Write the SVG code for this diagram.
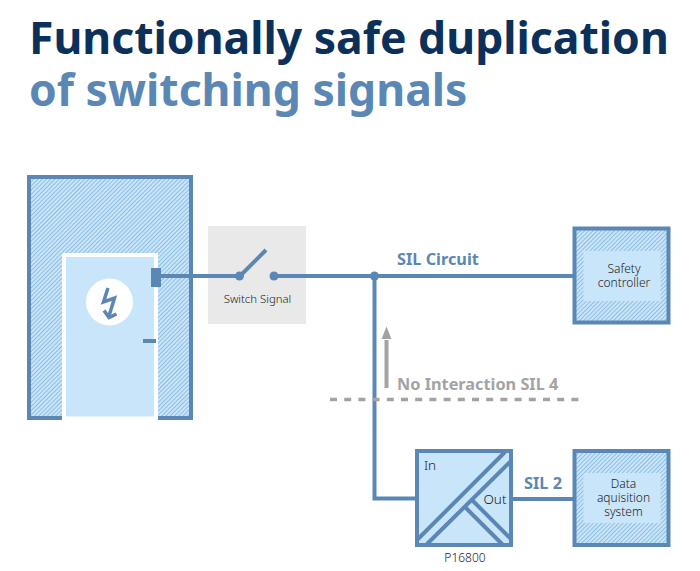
<svg xmlns="http://www.w3.org/2000/svg" width="700" height="571" viewBox="0 0 700 571">
<style>
text{font-family:"Noto Sans","Open Sans","DejaVu Sans",sans-serif}
.t{font-size:44.5px;font-weight:700}
.s{font-size:12px;font-weight:300;fill:#222;text-anchor:middle}
.m{font-size:13.500px}
.l{font-size:16.300px;font-weight:700;fill:#5b87b5}
.b{stroke:#5b87b5;stroke-width:4;fill:url(#h)}
.w{stroke:#5b87b5;stroke-width:4;fill:none}
.f{fill:#c9e5fa}
.d{fill:#5b87b5}
</style>
<defs>
<pattern id="h" width="3" height="3" patternUnits="userSpaceOnUse" patternTransform="rotate(45)">
<rect width="3" height="3" fill="#c9e5fa"/><rect width="1" height="3" fill="#8fbde2"/>
</pattern>
</defs>
<rect width="700" height="571" fill="#fff"/>
<text class="t" x="29" y="54" fill="#0b3059">Functionally safe duplication</text>
<text class="t" x="29" y="106" fill="#5b87b5">of switching signals</text>
<g id="housing">
<rect class="b" x="29" y="177" width="162" height="241"/>
<path d="M64 420V255H156V420" fill="#c9e5fa" stroke="#fff" stroke-width="4"/>
<rect x="62" y="416.500" width="96" height="5" fill="#fff"/>
<circle cx="109.500" cy="302" r="23.500" fill="#fff"/>
<path d="M108 288L103.500 302L114.500 298L109 316M104 310.500L109 317.500L116.500 314" fill="none" stroke="#5b87b5" stroke-width="3.500"/>
<rect class="d" x="151" y="268" width="10" height="19"/>
<rect class="d" x="143" y="339" width="13" height="4"/>
</g>
<g id="switch">
<rect x="208" y="226" width="98" height="98" fill="#e9e9e9"/>
<text class="s" style="font-size:11.400px" x="257.500" y="303">Switch Signal</text>
</g>
<g id="connectors" fill="none" stroke="#5b87b5" stroke-width="4">
<path d="M160 276H240M240 276L266 250" />
<path d="M274 276H574"/>
<path d="M374.500 276V498.500H416"/>
<path d="M512 499H576"/>
</g>
<g id="junctions" class="d">
<circle class="d" cx="239.500" cy="276" r="4.500"/>
<circle class="d" cx="274" cy="276" r="4.500"/>
<circle class="d" cx="374.500" cy="276" r="4.500"/>
</g>
<g id="safety-controller">
<rect class="b" x="574.500" y="228.500" width="94" height="94"/>
<rect class="f" x="583.500" y="251" width="77" height="50"/>
<text class="s" x="624" y="273">Safety</text>
<text class="s" x="624" y="286.500">controller</text>
</g>
<g id="interaction">
<path d="M386.500 388V340" stroke="#a3a3a3" stroke-width="4" fill="none"/>
<path d="M386.500 326.500L391.500 339H381.500Z" fill="#a3a3a3"/>
<text x="397" y="390" font-size="16.300" font-weight="700" fill="#a3a3a3">No Interaction SIL 4</text>
<path d="M330 399.500H580" stroke="#a3a3a3" stroke-width="3.500" stroke-dasharray="7 7.200" fill="none"/>
</g>
<g id="p16800">
<rect x="417" y="451" width="94" height="94" fill="#c9e5fa" stroke="#5b87b5" stroke-width="4"/>
<path d="M417 540L505 452M427 544L511 461M465 507L503 545M472 500L511 539" class="w"/>
<text class="s m" x="430" y="470">In</text>
<text class="s m" x="495" y="503.500">Out</text>
<text class="s" x="465" y="562">P16800</text>
</g>
<text id="sil-circuit" class="l" x="397" y="265">SIL Circuit</text>
<text id="sil-2" class="l" x="524" y="489">SIL 2</text>
<g id="data-system">
<rect class="b" x="574.500" y="451" width="94" height="94"/>
<rect class="f" x="583.500" y="473" width="77" height="50"/>
<text class="s" x="623.500" y="488">Data</text>
<text class="s" x="623.500" y="502">aquisition</text>
<text class="s" x="623.500" y="515.500">system</text>
</g>
</svg>
